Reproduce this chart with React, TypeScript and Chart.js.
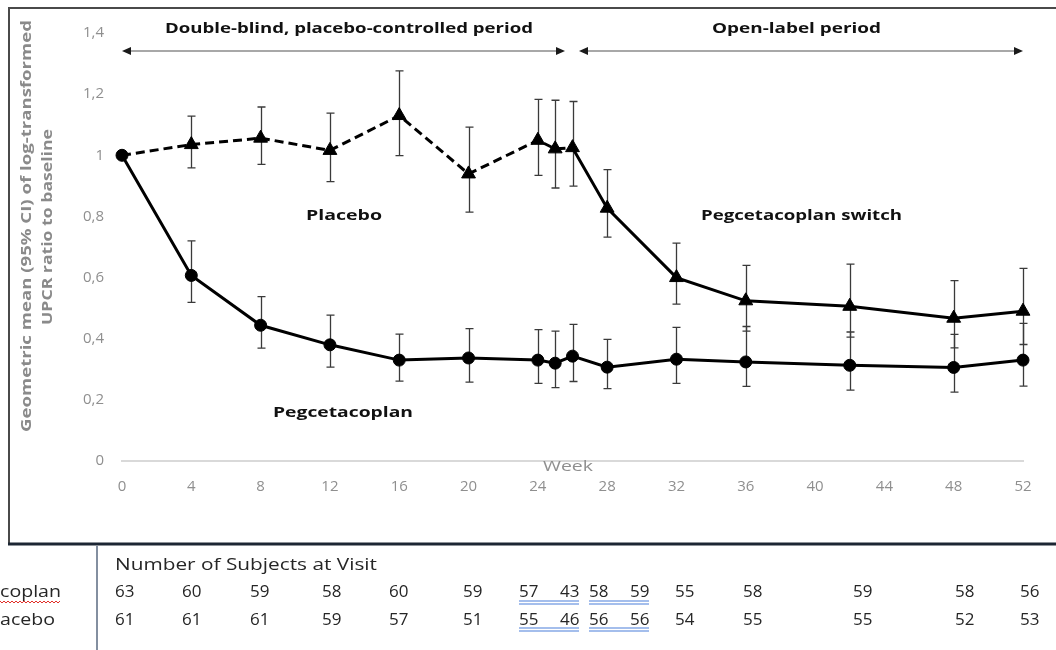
import React, { useEffect, useRef } from "react";
import { Chart, registerables } from "chart.js";

Chart.register(...registerables);

// ---- Data ----
const weeks = [0, 4, 8, 12, 16, 20, 24, 25, 26, 28, 32, 36, 42, 48, 52];
const pegMean = [1.0, 0.607, 0.444, 0.38, 0.33, 0.337, 0.33, 0.32, 0.343, 0.307, 0.333, 0.324, 0.313, 0.306, 0.33];
const pegLow = [null, 0.519, 0.369, 0.307, 0.261, 0.258, 0.254, 0.24, 0.26, 0.237, 0.254, 0.244, 0.232, 0.225, 0.245];
const pegHigh = [null, 0.72, 0.538, 0.477, 0.415, 0.433, 0.43, 0.425, 0.447, 0.398, 0.437, 0.44, 0.422, 0.414, 0.45];
const pboMean = [1.0, 1.035, 1.056, 1.016, 1.13, 0.939, 1.049, 1.021, 1.025, 0.827, 0.6, 0.524, 0.506, 0.467, 0.49];
const pboLow = [null, 0.959, 0.97, 0.914, 0.999, 0.814, 0.934, 0.893, 0.899, 0.732, 0.513, 0.425, 0.405, 0.37, 0.381];
const pboHigh = [null, 1.128, 1.158, 1.138, 1.276, 1.092, 1.183, 1.18, 1.176, 0.953, 0.713, 0.64, 0.644, 0.59, 0.63];

const subjectsHeader = "Number of Subjects at Visit";
const rowLabels = ["Pegcetacoplan", "Placebo"];
const subjectsPeg = [63, 60, 59, 58, 60, 59, 57, 43, 58, 59, 55, 58, 59, 58, 56];
const subjectsPbo = [61, 61, 61, 59, 57, 51, 55, 46, 56, 56, 54, 55, 55, 52, 53];

const yTitle = ["Geometric mean (95% CI) of log-transformed", "UPCR ratio to baseline"];
const xTitle = "Week";
const periodLabels = ["Double-blind, placebo-controlled period", "Open-label period"];
const seriesLabels = ["Placebo", "Pegcetacoplan switch", "Pegcetacoplan"];

const FONT = "'Open Sans', 'DejaVu Sans', sans-serif";

function fitText(
  ctx: CanvasRenderingContext2D,
  text: string,
  x: number,
  y: number,
  w: number | null,
  font: string,
  color: string,
  align: "left" | "center" | "right" = "left"
) {
  ctx.save();
  ctx.font = font;
  ctx.fillStyle = color;
  ctx.textBaseline = "middle";
  ctx.textAlign = "left";
  const m = ctx.measureText(text).width;
  const s = w ? w / m : 1;
  ctx.translate(x, y);
  ctx.scale(s, 1);
  const x0 = align === "left" ? 0 : align === "center" ? -m / 2 : -m;
  ctx.fillText(text, x0, 0);
  ctx.restore();
}

// right-aligned text whose visible tail (suffix) is stretched to a given width
function tailText(
  ctx: CanvasRenderingContext2D,
  text: string,
  suffixLen: number,
  right: number,
  y: number,
  tailW: number,
  font: string,
  color: string
) {
  ctx.save();
  ctx.font = font;
  ctx.fillStyle = color;
  ctx.textBaseline = "middle";
  ctx.textAlign = "right";
  const m = ctx.measureText(text.slice(text.length - suffixLen)).width;
  ctx.translate(right, y);
  ctx.scale(tailW / m, 1);
  ctx.fillText(text, 0, 0);
  ctx.restore();
}

const decorPlugin = {
  id: "decor",
  beforeDatasetsDraw(chart: any) {
    const ctx: CanvasRenderingContext2D = chart.ctx;
    const xs = chart.scales.x;
    const ys = chart.scales.y;
    ctx.save();
    ctx.strokeStyle = "#3a3a3a";
    ctx.lineWidth = 1.3;
    const drawBars = (lo: (number | null)[], hi: (number | null)[]) => {
      weeks.forEach((w, i) => {
        const l = lo[i];
        const h = hi[i];
        if (l == null || h == null) return;
        const px = Math.round(xs.getPixelForValue(w)) + 0.5;
        const y1 = ys.getPixelForValue(l);
        const y2 = ys.getPixelForValue(h);
        ctx.beginPath();
        ctx.moveTo(px, y1);
        ctx.lineTo(px, y2);
        ctx.moveTo(px - 4, y1);
        ctx.lineTo(px + 4, y1);
        ctx.moveTo(px - 4, y2);
        ctx.lineTo(px + 4, y2);
        ctx.stroke();
      });
    };
    drawBars(pegLow, pegHigh);
    drawBars(pboLow, pboHigh);
    ctx.restore();
  },
  afterDraw(chart: any) {
    const ctx: CanvasRenderingContext2D = chart.ctx;
    const xs = chart.scales.x;
    ctx.save();

    // Frame
    ctx.strokeStyle = "#4a4a4a";
    ctx.lineWidth = 2;
    ctx.beginPath();
    ctx.moveTo(8, 8);
    ctx.lineTo(1056, 8);
    ctx.moveTo(9, 8);
    ctx.lineTo(9, 544);
    ctx.stroke();
    ctx.strokeStyle = "#1c2633";
    ctx.lineWidth = 3;
    ctx.beginPath();
    ctx.moveTo(8, 544);
    ctx.lineTo(1056, 544);
    ctx.stroke();

    // Arrows
    const ay = 51;
    const arrow = (x1: number, x2: number) => {
      ctx.strokeStyle = "#a8a8a8";
      ctx.lineWidth = 2;
      ctx.beginPath();
      ctx.moveTo(x1 + 6, ay);
      ctx.lineTo(x2 - 6, ay);
      ctx.stroke();
      ctx.fillStyle = "#1a1a1a";
      ctx.beginPath();
      ctx.moveTo(x1, ay);
      ctx.lineTo(x1 + 9, ay - 4);
      ctx.lineTo(x1 + 9, ay + 4);
      ctx.closePath();
      ctx.fill();
      ctx.beginPath();
      ctx.moveTo(x2, ay);
      ctx.lineTo(x2 - 9, ay - 4);
      ctx.lineTo(x2 - 9, ay + 4);
      ctx.closePath();
      ctx.fill();
    };
    arrow(xs.getPixelForValue(0), 565);
    arrow(579, xs.getPixelForValue(52));

    // Period labels
    const bold = `bold 15px ${FONT}`;
    fitText(ctx, periodLabels[0], 165, 29, 368, bold, "#111");
    fitText(ctx, periodLabels[1], 712, 29, 169, bold, "#111");

    // Series annotations
    fitText(ctx, seriesLabels[0], 306, 216, 76, bold, "#111");
    fitText(ctx, seriesLabels[1], 701, 216, 201, bold, "#111");
    fitText(ctx, seriesLabels[2], 273, 413, 140, bold, "#111");

    // Week label
    fitText(ctx, xTitle, 568, 467, 50, `15px ${FONT}`, "#8f8f8f", "center");

    // Y title (rotated)
    ctx.save();
    ctx.translate(27, 226);
    ctx.rotate(-Math.PI / 2);
    fitText(ctx, yTitle[0], 0, 0, 412, `bold 15px ${FONT}`, "#8a8a8a", "center");
    ctx.restore();
    ctx.save();
    ctx.translate(48, 227);
    ctx.rotate(-Math.PI / 2);
    fitText(ctx, yTitle[1], 0, 0, 196, `bold 15px ${FONT}`, "#8a8a8a", "center");
    ctx.restore();

    // Table
    ctx.strokeStyle = "#5a6a80";
    ctx.lineWidth = 1.5;
    ctx.beginPath();
    ctx.moveTo(97, 546);
    ctx.lineTo(97, 650);
    ctx.stroke();

    const tfont = `17px ${FONT}`;
    const tcol = "#262626";
    fitText(ctx, subjectsHeader, 115, 565, 262, tfont, tcol);
    tailText(ctx, rowLabels[0], 6, 61, 592, 61, tfont, tcol);
    tailText(ctx, rowLabels[1], 5, 55, 620, 55, tfont, tcol);

    // red wavy underline under the truncated first row label
    ctx.strokeStyle = "#e0302a";
    ctx.lineWidth = 1;
    ctx.beginPath();
    for (let x = 0; x <= 61; x += 2) {
      const yy = 602 + (Math.floor(x / 2) % 2 === 0 ? -1 : 1);
      if (x === 0) ctx.moveTo(x, yy);
      else ctx.lineTo(x, yy);
    }
    ctx.stroke();

    const colX = [115, 182, 250, 322, 389, 463, 519, 560, 589, 630, 675, 743, 853, 955, 1020];
    subjectsPeg.forEach((v, i) => fitText(ctx, String(v), colX[i], 592, null, tfont, tcol));
    subjectsPbo.forEach((v, i) => fitText(ctx, String(v), colX[i], 620, null, tfont, tcol));

    // blue double underlines
    ctx.strokeStyle = "#4a7fd9";
    ctx.lineWidth = 1.2;
    const underline = (x1: number, x2: number, y: number) => {
      ctx.beginPath();
      ctx.moveTo(x1, y);
      ctx.lineTo(x2, y);
      ctx.moveTo(x1, y + 3);
      ctx.lineTo(x2, y + 3);
      ctx.stroke();
    };
    underline(519, 579, 601);
    underline(589, 649, 601);
    underline(519, 579, 628);
    underline(589, 649, 628);

    ctx.restore();
  },
};

export default function App() {
  const ref = useRef<HTMLCanvasElement | null>(null);
  useEffect(() => {
    if (!ref.current) return;
    const chart = new Chart(ref.current, {
      type: "line",
      data: {
        datasets: [
          {
            label: "Pegcetacoplan",
            data: weeks.map((w, i) => ({ x: w, y: pegMean[i] })),
            borderColor: "#000",
            backgroundColor: "#000",
            borderWidth: 3,
            pointStyle: "circle",
            pointRadius: 6,
            pointBorderWidth: 1,
            pointBackgroundColor: "#000",
            pointBorderColor: "#000",
            tension: 0,
            clip: false,
          },
          {
            label: "Placebo",
            data: weeks.map((w, i) => ({ x: w, y: pboMean[i] })),
            borderColor: "#000",
            backgroundColor: "#000",
            borderWidth: 3,
            pointStyle: "triangle",
            pointRadius: weeks.map((_, i) => (i === 0 ? 0 : 8)),
            pointBorderWidth: 1,
            pointBackgroundColor: "#000",
            pointBorderColor: "#000",
            tension: 0,
            clip: false,
            segment: {
              borderDash: (c: any) => (c.p1.parsed.x <= 26 ? [9, 5] : undefined),
            },
          },
        ],
      },
      options: {
        animation: false,
        responsive: false,
        devicePixelRatio: 1,
        layout: { padding: { left: 0, right: 33, top: 33, bottom: 0 } },
        plugins: { legend: { display: false }, tooltip: { enabled: false } },
        scales: {
          x: {
            type: "linear",
            min: 0,
            max: 52,
            grid: { display: false, drawTicks: false },
            border: { display: true, color: "#d9d9d9", width: 2 },
            ticks: {
              stepSize: 4,
              color: "#8f8f8f",
              padding: 17,
              font: { family: FONT, size: 15 },
              maxRotation: 0,
            },
            afterFit: (s: any) => {
              s.height = 189;
            },
          },
          y: {
            min: 0,
            max: 1.4,
            grid: { display: false, drawTicks: false },
            border: { display: false },
            ticks: {
              stepSize: 0.2,
              color: "#8f8f8f",
              padding: 18,
              font: { family: FONT, size: 15 },
              callback: (v: any) => String(Math.round(Number(v) * 10) / 10).replace(".", ","),
            },
            afterFit: (s: any) => {
              s.width = 122;
            },
          },
        },
      } as any,
      plugins: [decorPlugin],
    });
    return () => chart.destroy();
  }, []);

  return (
    <div style={{ position: "absolute", left: 0, top: 0, width: 1056, height: 650, background: "#fff" }}>
      <canvas ref={ref} width={1056} height={650} style={{ display: "block" }} />
    </div>
  );
}
